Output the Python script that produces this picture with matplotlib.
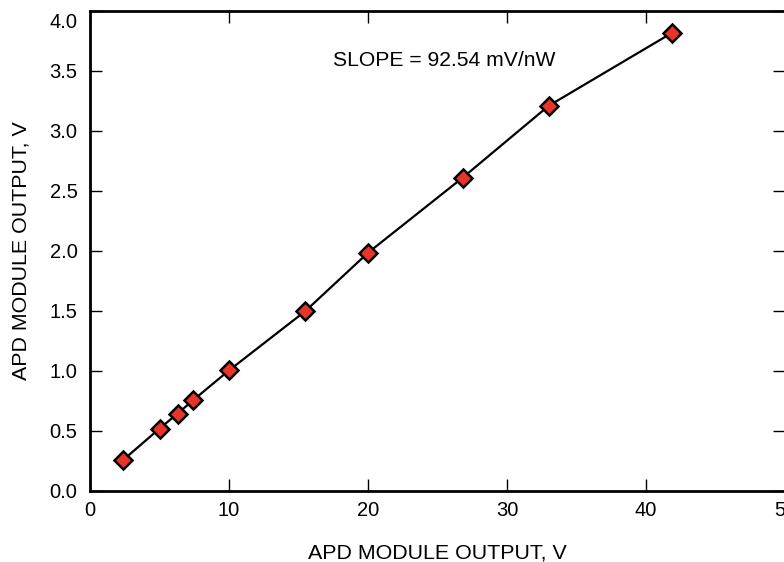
import matplotlib
matplotlib.use("Agg")
import matplotlib.pyplot as plt
from matplotlib.transforms import ScaledTranslation

plt.rcParams['font.family'] = ['Liberation Sans', 'DejaVu Sans']

x_vals = [2.4, 5.0, 6.3, 7.4, 10.0, 15.5, 20.0, 26.8, 33.0, 41.9]
y_vals = [0.26, 0.52, 0.645, 0.755, 1.005, 1.50, 1.985, 2.61, 3.21, 3.82]
x_ticks = [0, 10, 20, 30, 40, 50]
y_ticks = [0.0, 0.5, 1.0, 1.5, 2.0, 2.5, 3.0, 3.5, 4.0]
y_tick_labels = ["0.0", "0.5", "1.0", "1.5", "2.0", "2.5", "3.0", "3.5", "4.0"]
xlabel = "APD MODULE OUTPUT, V"
ylabel = "APD MODULE OUTPUT, V"
annotation = "SLOPE = 92.54 mV/nW"

fig = plt.figure(figsize=(7.84, 5.62), dpi=100)
ax = fig.add_axes([90/784, (562-491)/562, 695/784, 480/562])

ax.plot(x_vals, y_vals, color='black', linewidth=1.6, marker='D', markersize=9,
        markerfacecolor='#E8352A', markeredgecolor='black', markeredgewidth=1.8,
        clip_on=False, zorder=3)

ax.set_xlim(0, 50)
ax.set_ylim(0, 4.0)
ax.set_xticks(x_ticks)
ax.set_yticks(y_ticks)
ax.set_yticklabels(y_tick_labels)

for s in ax.spines.values():
    s.set_linewidth(2.0)

ax.tick_params(axis='both', which='both', direction='in', length=8.5, width=1.0,
               top=True, right=True, labelsize=14.5)
ax.tick_params(axis='x', pad=7)
ax.tick_params(axis='y', pad=9)

# nudge the top "4.0" label down so it stays inside the figure
top_lbl = ax.get_yticklabels()[-1]
top_lbl.set_transform(top_lbl.get_transform() + ScaledTranslation(0, -9/100, fig.dpi_scale_trans))

ax.set_xlabel(xlabel, fontsize=15.4, labelpad=17)
ax.set_ylabel(ylabel, fontsize=15.4, labelpad=14)

ax.text(25.5, 3.59, annotation, fontsize=15.2, ha='center', va='center')

fig.savefig("out.png", dpi=100)
